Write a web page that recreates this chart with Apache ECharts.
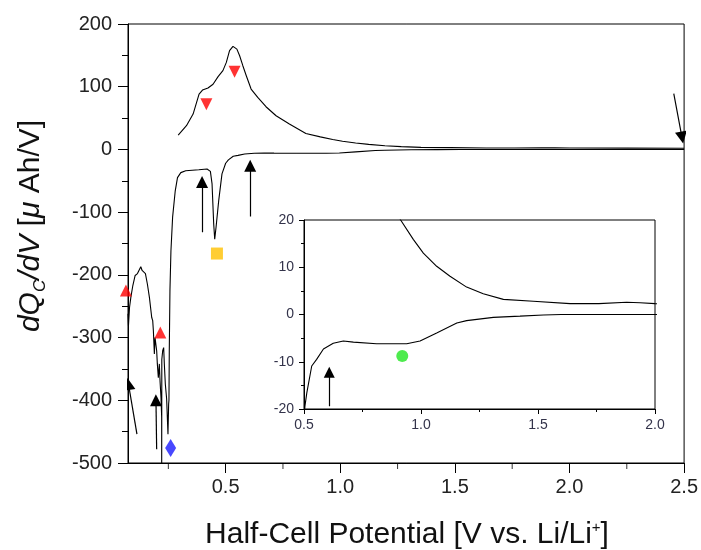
<!DOCTYPE html>
<html>
<head>
<meta charset="utf-8">
<script src="https://cdn.jsdelivr.net/npm/echarts@6/dist/echarts.min.js"></script>
<style>html,body{margin:0;padding:0;background:#fff;}#c{width:701px;height:550px;}</style>
</head>
<body>
<div id="c"></div>
<script>
// ---- data (x: potential V vs Li/Li+, y: dQc/dV in µAh/V) ----
const upperCurve = [[0.293,22.9],[0.329,37.8],[0.358,56.4],[0.384,88.3],[0.399,94.7],[0.423,98],[0.445,104],[0.467,116],[0.488,125.6],[0.503,138.8],[0.517,157.4],[0.532,164.3],[0.549,160],[0.561,149.4],[0.575,133.5],[0.590,117.5],[0.611,96.3],[0.640,83],[0.676,68.1],[0.720,53.7],[0.778,40.5],[0.850,25.5],[0.913,20],[0.967,15.9],[1.010,13],[1.067,10.2],[1.124,8.1],[1.195,5.8],[1.266,4.4],[1.352,3.2],[1.480,2.8],[1.637,2.3],[1.760,2.3],[1.879,2.6],[1.936,2.5],[2.0,2.3],[2.25,2.0],[2.5,1.8]];
const lowerCurve = [[0.074,-262],[0.076,-281],[0.0806,-252],[0.0864,-236],[0.0951,-217],[0.1052,-201],[0.1153,-198],[0.124,-196],[0.1298,-187],[0.1356,-193],[0.1443,-191],[0.150,-198],[0.1587,-215],[0.1674,-236],[0.1775,-268],[0.1818,-273],[0.1847,-289],[0.189,-326],[0.1919,-300],[0.1991,-321],[0.202,-342],[0.2063,-364],[0.2107,-342],[0.2137,-369],[0.218,-396],[0.2209,-427],[0.221,-520],[0.2215,-335],[0.2253,-321],[0.2296,-316],[0.2325,-342],[0.2368,-374],[0.2426,-398],[0.2484,-454],[0.2513,-406],[0.2527,-400],[0.2541,-321],[0.257,-225],[0.2613,-162],[0.2686,-108],[0.2801,-66],[0.2899,-45],[0.3044,-37],[0.3257,-34],[0.3829,-32.4],[0.4189,-31.3],[0.4334,-35],[0.4407,-55],[0.4479,-119],[0.4523,-143],[0.4581,-124],[0.4696,-82],[0.484,-39],[0.5,-22],[0.504,-19.4],[0.512,-16.6],[0.533,-10.9],[0.554,-9.5],[0.583,-7.3],[0.625,-6.1],[0.668,-5.6],[0.711,-5.85],[0.81,-6.2],[0.939,-6.2],[0.996,-5.6],[1.067,-3.9],[1.153,-1.8],[1.195,-1.3],[1.309,-0.6],[1.423,-0.35],[1.523,-0.1],[1.6,0],[2.0,0],[2.5,0]];

const redDown = [[0.416,72],[0.539,124]];
const redUp = [[0.065,-225],[0.215,-292]];
const blueDiamond = [[0.26,-476]];
const orangeSquare = [[0.462,-166]];
const greenCircle = [[0.92,-8.8]];

// arrows: [tailX, tailY, headX, headY]
const mainArrows = [[0.113,-454,0.076,-374],[0.199,-478,0.196,-400],[0.397,-132,0.397,-52],[0.607,-107,0.607,-26],[2.455,89,2.491,19]];
const insetArrows = [[0.608,-19.4,0.608,-12.2]];

const mainXTicks = [0.5,1.0,1.5,2.0,2.5];
const mainXMinor = [0.25,0.75,1.25,1.75,2.25];
const mainXMin = 0.074, mainXMax = 2.5;
const mainYMin = -500, mainYMax = 200, mainYStep = 100;
const insetXMin = 0.5, insetXMax = 2.0, insetXStep = 0.5;
const insetYMin = -20, insetYMax = 20, insetYStep = 10;

const FONT = 'Liberation Sans, Arial, sans-serif';
const chart = echarts.init(document.getElementById('c'), null, {renderer:'canvas'});

const hidden = {show:false};
function arrowData(arr){ return arr.map(a => ({coords:[[a[0],a[1]],[a[2],a[3]]]})); }

const option = {
  backgroundColor:'#fff',
  animation:false,
  grid:[
    {left:128, right:14, top:24, bottom:87, show:true, borderColor:'#000', borderWidth:1, backgroundColor:'transparent'},
    {left:304, right:46, top:220, bottom:141, show:true, borderColor:'#000', borderWidth:1, backgroundColor:'#fff'}
  ],
  xAxis:[
    {gridIndex:0, type:'value', min:mainXMin, max:mainXMax, position:'bottom',
     axisLine:{show:true, onZero:false, lineStyle:{color:'#000', width:1}},
     axisTick:{show:true, length:10, customValues:mainXTicks, lineStyle:{color:'#000'}},
     axisLabel:{show:true, customValues:mainXTicks, margin:14, fontFamily:FONT, fontSize:20, color:'#222', formatter:v=>(+v).toFixed(1)},
     splitLine:hidden},
    {gridIndex:1, type:'value', min:insetXMin, max:insetXMax, interval:insetXStep, position:'bottom',
     axisLine:{show:true, onZero:false, lineStyle:{color:'#000', width:1}},
     axisTick:{show:true, length:5, lineStyle:{color:'#000'}},
     minorTick:{show:true, splitNumber:2, length:3, lineStyle:{color:'#000'}},
     axisLabel:{show:true, margin:9, fontFamily:FONT, fontSize:14, color:'#33334a', formatter:v=>(+v).toFixed(1), showMinLabel:true, showMaxLabel:true},
     splitLine:hidden}
  ],
  yAxis:[
    {gridIndex:0, type:'value', min:mainYMin, max:mainYMax, interval:mainYStep,
     axisLine:{show:true, onZero:false, lineStyle:{color:'#000', width:1}},
     axisTick:{show:true, length:10, lineStyle:{color:'#000'}},
     minorTick:{show:true, splitNumber:2, length:6, lineStyle:{color:'#000'}},
     axisLabel:{show:true, margin:16, fontFamily:FONT, fontSize:20, color:'#222'},
     splitLine:hidden},
    {gridIndex:1, type:'value', min:insetYMin, max:insetYMax, interval:insetYStep,
     axisLine:{show:true, onZero:false, lineStyle:{color:'#000', width:1}},
     axisTick:{show:true, length:5, lineStyle:{color:'#000'}},
     minorTick:{show:true, splitNumber:2, length:3, lineStyle:{color:'#000'}},
     axisLabel:{show:true, margin:10, fontFamily:FONT, fontSize:14, color:'#33334a'},
     splitLine:hidden}
  ],
  series:[
    // minor ticks of the main x axis (short marks hanging below the axis line)
    {type:'scatter', xAxisIndex:0, yAxisIndex:0, data:mainXMinor.map(v=>[v, mainYMin]), symbol:'rect', symbolSize:[1,6], symbolOffset:[0,3], clip:false, silent:true, itemStyle:{color:'#000'}, z:2},
    {type:'line', xAxisIndex:0, yAxisIndex:0, data:upperCurve, showSymbol:false, symbol:'none', clip:true, lineStyle:{color:'#000', width:1.1}, z:3},
    {type:'line', xAxisIndex:0, yAxisIndex:0, data:lowerCurve, showSymbol:false, symbol:'none', clip:true, lineStyle:{color:'#000', width:1.1}, z:3},
    {type:'lines', coordinateSystem:'cartesian2d', xAxisIndex:0, yAxisIndex:0, data:arrowData(mainArrows), symbol:['none','triangle'], symbolSize:12, lineStyle:{color:'#000', width:1.2, opacity:1}, z:4},
    {type:'scatter', xAxisIndex:0, yAxisIndex:0, data:redDown, symbol:'triangle', symbolRotate:180, symbolSize:12, clip:false, itemStyle:{color:'#ff0000'}, z:5},
    {type:'scatter', xAxisIndex:0, yAxisIndex:0, data:redUp, symbol:'triangle', symbolSize:12, clip:false, itemStyle:{color:'#ff0000'}, z:5},
    {type:'scatter', xAxisIndex:0, yAxisIndex:0, data:blueDiamond, symbol:'diamond', symbolSize:[11,18], clip:false, itemStyle:{color:'#1a1aff'}, z:5},
    {type:'scatter', xAxisIndex:0, yAxisIndex:0, data:orangeSquare, symbol:'rect', symbolSize:12, clip:false, itemStyle:{color:'#ffc000'}, z:5},
    {type:'line', xAxisIndex:1, yAxisIndex:1, data:upperCurve, showSymbol:false, symbol:'none', clip:true, lineStyle:{color:'#000', width:1.1}, z:6},
    {type:'line', xAxisIndex:1, yAxisIndex:1, data:lowerCurve, showSymbol:false, symbol:'none', clip:true, lineStyle:{color:'#000', width:1.1}, z:6},
    {type:'lines', coordinateSystem:'cartesian2d', xAxisIndex:1, yAxisIndex:1, data:arrowData(insetArrows), symbol:['none','triangle'], symbolSize:11, lineStyle:{color:'#000', width:1.2, opacity:1}, z:7},
    {type:'scatter', xAxisIndex:1, yAxisIndex:1, data:greenCircle, symbol:'circle', symbolSize:12, itemStyle:{color:'#22e622'}, z:7}
  ],
  graphic:[
    {type:'text', x:407, y:535, z:10,
     style:{text:'Half-Cell Potential [V vs. Li/Li{sup|+}]', fontFamily:FONT, fontSize:30, fill:'#111', align:'center', verticalAlign:'middle',
       rich:{sup:{fontFamily:FONT, fontSize:15, lineHeight:15, verticalAlign:'top', fill:'#111'}}}},
    {type:'text', x:31, y:226, rotation:Math.PI/2, z:10,
     style:{text:'{i|dQ}{sub|C}{i|/dV} [{i|μ} Ah/V]', fontFamily:FONT, fontSize:30, fill:'#111', align:'center', verticalAlign:'middle', lineHeight:36,
       rich:{
         i:{fontFamily:FONT, fontSize:30, fontStyle:'italic', lineHeight:36, fill:'#111'},
         sub:{fontFamily:FONT, fontSize:17, fontStyle:'italic', lineHeight:17, verticalAlign:'bottom', fill:'#111'}
       }}}
  ]
};
chart.setOption(option);
</script>
</body>
</html>
